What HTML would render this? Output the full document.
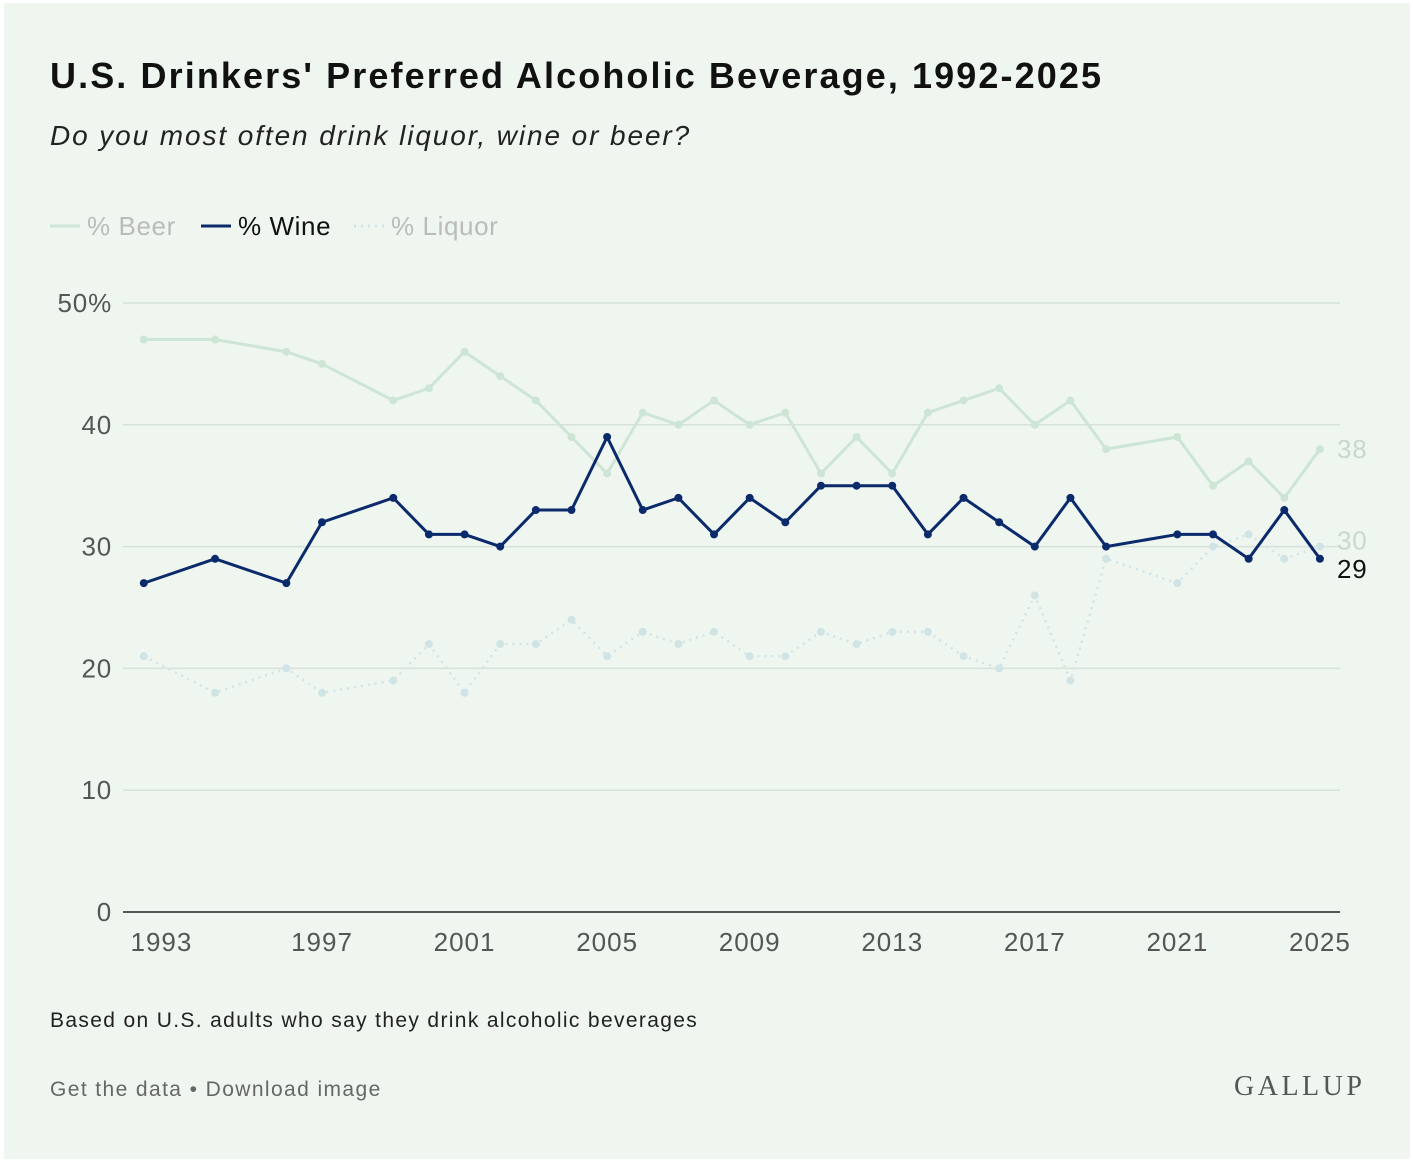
<!DOCTYPE html>
<html><head><meta charset="utf-8"><style>
html,body{margin:0;padding:0;background:#fff;}
#card{position:absolute;left:4px;top:3px;width:1406px;height:1156px;background:#eff6f0;font-family:"Liberation Sans",sans-serif;}
h1{position:absolute;left:46px;top:52px;margin:0;font-size:36px;font-weight:bold;color:#111;letter-spacing:2.1px;}
.sub{position:absolute;left:46px;top:117px;font-size:28px;font-style:italic;color:#222;letter-spacing:1.9px;}
.note{position:absolute;left:46px;top:1006px;font-size:21px;color:#222;letter-spacing:1.35px;}
.links{position:absolute;left:46px;top:1075px;font-size:21px;color:#666;letter-spacing:1.4px;}
.logo{position:absolute;left:1230px;top:1068px;font-family:"Liberation Serif",serif;font-size:28px;color:#555;letter-spacing:3.5px;}
svg{position:absolute;left:0;top:0;}
</style></head><body>
<div id="card">
<h1>U.S. Drinkers' Preferred Alcoholic Beverage, 1992-2025</h1>
<div class="sub">Do you most often drink liquor, wine or beer?</div>
<div class="note">Based on U.S. adults who say they drink alcoholic beverages</div>
<div class="links"><span>Get the data</span> • <span>Download image</span></div>
<div class="logo">GALLUP</div>
</div>
<svg id="chart" width="1413" height="1161"></svg>
<script>
const years=[1992,1994,1996,1997,1999,2000,2001,2002,2003,2004,2005,2006,2007,2008,2009,2010,2011,2012,2013,2014,2015,2016,2017,2018,2019,2021,2022,2023,2024,2025];
const beer=[47,47,46,45,42,43,46,44,42,39,36,41,40,42,40,41,36,39,36,41,42,43,40,42,38,39,35,37,34,38];
const wine=[27,29,27,32,34,31,31,30,33,33,39,33,34,31,34,32,35,35,35,31,34,32,30,34,30,31,31,29,33,29];
const liquor=[21,18,20,18,19,22,18,22,22,24,21,23,22,23,21,21,23,22,23,23,21,20,26,19,29,27,30,31,29,30];
const yTicks=[0,10,20,30,40,50];
const xTicks=[1993,1997,2001,2005,2009,2013,2017,2021,2025];
const NS="http://www.w3.org/2000/svg";
const svg=document.getElementById('chart');
const x=y=>322+(y-1997)*35.64;
const yS=v=>912-v*12.18;
const FF='Liberation Sans, sans-serif';
function el(t,a,p){const e=document.createElementNS(NS,t);for(const k in a)e.setAttribute(k,a[k]);(p||svg).appendChild(e);return e;}
const leg=[["% Beer","#cde5d4","none","#bbb",50],["% Wine","#0b2a6b","none","#111",201],["% Liquor","#d0e4e6","2,5","#bbb",354]];
leg.forEach(l=>{
 const g=el('g',{});
 
 
 el('line',{x1:l[4],x2:l[4]+30,y1:226,y2:226,stroke:l[1],'stroke-width':3,'stroke-dasharray':l[2]},g);
 const t=el('text',{x:l[4]+37,y:235,'font-size':26,'letter-spacing':0.6,fill:l[3],'font-family':FF},g);t.textContent=l[0];
});
yTicks.forEach(v=>{
 if(v>0){const gl=el('line',{x1:123,x2:1340,y1:yS(v),y2:yS(v),stroke:'#d4e2d8','stroke-width':1.5});
 }
 const t=el('text',{x:112,y:yS(v)+9,'text-anchor':'end','font-size':26,'letter-spacing':0.8,fill:'#555','font-family':FF});
 t.textContent=v===50?'50%':v;
 
});
const ax=el('line',{x1:123,x2:1340,y1:912,y2:912,stroke:'#222','stroke-width':1.5});

xTicks.forEach((v,i)=>{
 const t=el('text',{x:i===0?x(v)-18:x(v),y:951,'text-anchor':'middle','font-size':26,'letter-spacing':1,fill:'#555','font-family':FF});
 t.textContent=v;
 
});
function series(vals,color,dash,w,name){
 const p=el('polyline',{points:years.map((y,i)=>x(y)+','+yS(vals[i])).join(' '),fill:'none',stroke:color,'stroke-width':w,'stroke-dasharray':dash,'stroke-linejoin':'round'});
 
 vals.forEach((v,i)=>{const c=el('circle',{cx:x(years[i]),cy:yS(v),r:4,fill:color});
 });
}
series(liquor,'#d0e4e6','2,5',2.5,'liquor');
series(beer,'#cde5d4','none',3,'beer');
series(wine,'#0b2a6b','none',3,'wine');
const ends=[[beer,'#c8d8cc','beer'],[liquor,'#c8d8cc','liquor'],[wine,'#111','wine']];
const offs={beer:0,liquor:-6,wine:10};
ends.forEach(e=>{const v=e[0][e[0].length-1];
 const t=el('text',{x:1337,y:yS(v)+9+offs[e[2]],'font-size':26,'letter-spacing':0.8,fill:e[1],'font-family':FF});
 t.textContent=v;});
</script>
</body></html>
